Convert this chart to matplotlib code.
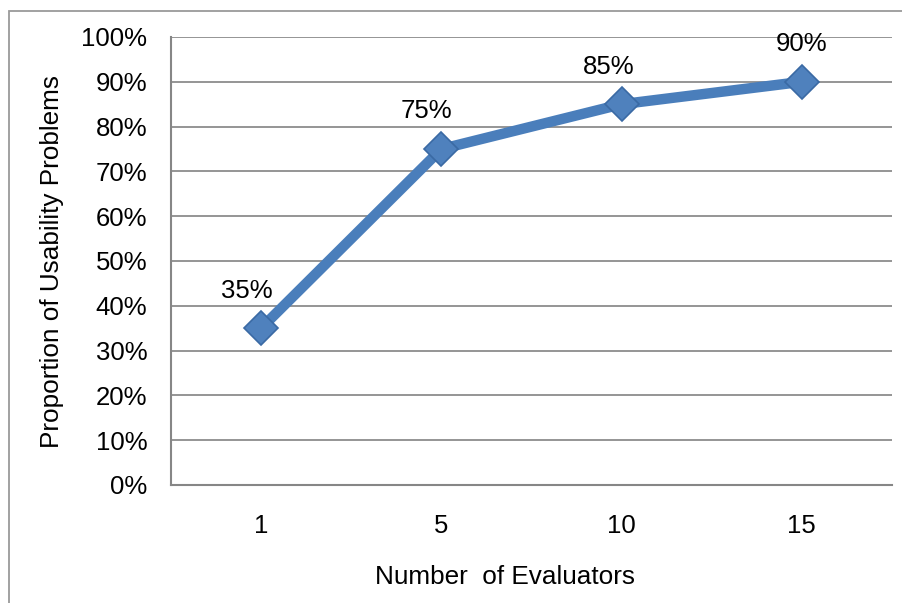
import matplotlib
matplotlib.use("Agg")
import matplotlib.pyplot as plt
from matplotlib.patches import Rectangle

categories = ["1", "5", "10", "15"]
proportions = [35, 75, 85, 90]
y_ticks = [0, 10, 20, 30, 40, 50, 60, 70, 80, 90, 100]
y_tick_labels = [f"{v}%" for v in y_ticks]
data_labels = [f"{v}%" for v in proportions]

# label offsets (style only, in points)
label_dx = [-10, -11, -9, 0]
label_dy = 27

plt.rcParams['font.family'] = ['Liberation Sans', 'DejaVu Sans']

W, H = 903, 603
fig = plt.figure(figsize=(W / 100, H / 100), dpi=100)
fig.patch.set_facecolor('white')

# outer chart border (left/top visible)
fig.patches.append(Rectangle((9 / W, -0.05), 1.2, 1 - 11 / H + 0.05,
                             transform=fig.transFigure, fill=False,
                             edgecolor='#9a9a9a', linewidth=1.3))

left, right, top, bottom = 171, 892, 37, 485
ax = fig.add_axes([left / W, 1 - bottom / H, (right - left) / W, (bottom - top) / H])

x = list(range(len(categories)))
ax.plot(x, proportions, color='#4A7EBB', linewidth=7.5, solid_capstyle='round',
        solid_joinstyle='round', zorder=3)
ax.plot(x, proportions, linestyle='none', marker='D', markersize=17,
        markerfacecolor='#4F81BD', markeredgecolor='#3A6AA4', markeredgewidth=1.2,
        zorder=4)

for xi, yi, lab, dx in zip(x, proportions, data_labels, label_dx):
    ax.annotate(lab, (xi, yi), xytext=(dx, label_dy), textcoords='offset points',
                ha='center', va='center', fontsize=18.5, color='black')

ax.set_xlim(-0.5, len(categories) - 0.5)
ax.set_ylim(0, 100)
ax.set_yticks(y_ticks)
ax.set_yticklabels(y_tick_labels)
ax.set_xticks(x)
ax.set_xticklabels(categories)
ax.tick_params(axis='both', length=0, labelsize=18.5, colors='black')
ax.tick_params(axis='y', pad=17)
ax.tick_params(axis='x', pad=21)

ax.yaxis.grid(True, color='#8c8c8c', linewidth=1.3)
ax.set_axisbelow(True)
for s in ['top', 'right']:
    ax.spines[s].set_visible(False)
for s in ['left', 'bottom']:
    ax.spines[s].set_color('#868686')
    ax.spines[s].set_linewidth(1.5)

fig.text(52 / W, 1 - 262 / H, "Proportion of Usability Problems", rotation=90,
         ha='center', va='center', fontsize=18.8)
fig.text(505 / W, 1 - 577 / H, "Number  of Evaluators", ha='center', va='center',
         fontsize=18.8)

fig.savefig("out.png", dpi=100, facecolor='white')
